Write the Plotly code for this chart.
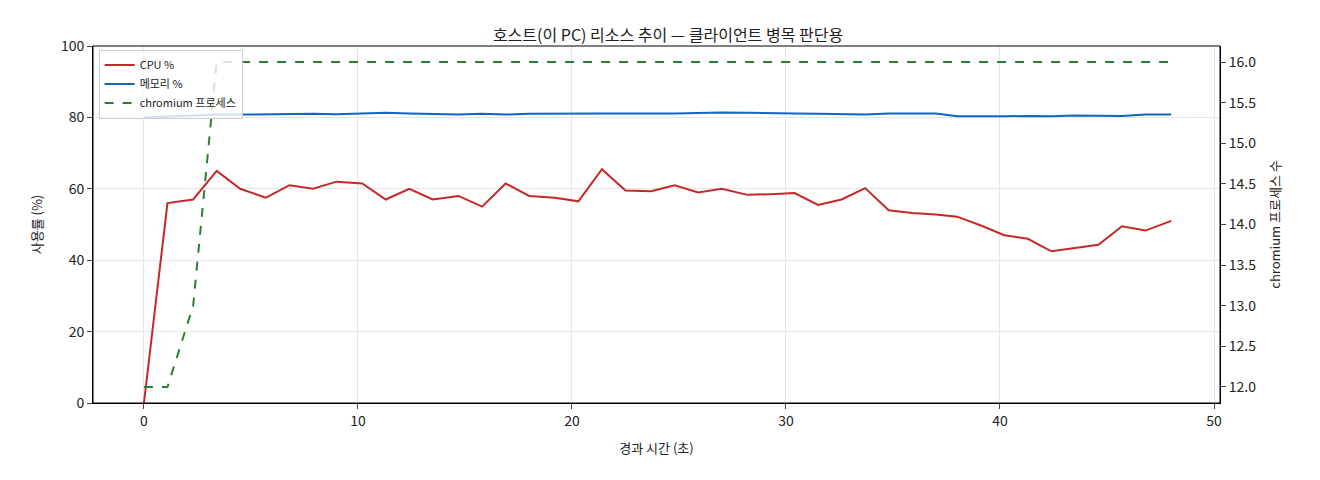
import plotly.graph_objects as go

t = [0, 1.1, 2.3, 3.4, 4.5, 5.7, 6.8, 7.9, 9.0, 10.2, 11.3, 12.4, 13.5, 14.7, 15.8, 16.9, 18.0, 19.2, 20.3, 21.4,
     22.5, 23.7, 24.8, 25.9, 27.0, 28.2, 29.3, 30.4, 31.5, 32.6, 33.7, 34.8, 35.9, 37.0, 38.0, 39.2, 40.2, 41.3,
     42.4, 43.5, 44.6, 45.7, 46.8, 48.0]
cpu = [0, 56, 57, 65, 60, 57.5, 61, 60, 62, 61.5, 57, 60, 57, 58, 55, 61.5, 58, 57.5, 56.5, 65.5,
       59.5, 59.3, 61, 59, 60, 58.3, 58.5, 58.8, 55.5, 57, 60.2, 54, 53.2, 52.8, 52.2, 49.5, 47, 46,
       42.5, 43.3, 44.3, 49.5, 48.3, 51]
mem = [80.0, 80.3, 80.5, 80.8, 80.8, 80.9, 81.0, 81.0, 80.9, 81.0, 81.3, 81.1, 81.0, 80.8, 81.0, 80.8, 81.0, 81.1,
       81.0, 81.1, 81.1, 81.0, 81.1, 81.2, 81.4, 81.3, 81.1, 81.1, 81.0, 80.9, 80.8, 81.1, 81.0, 81.1, 80.3, 80.2,
       80.3, 80.4, 80.3, 80.5, 80.4, 80.4, 80.8, 80.8]
procs = [12, 12, 13, 16] + [16] * 40

F = "Noto Sans CJK KR"
fig = go.Figure()
fig.add_trace(go.Scatter(x=t, y=cpu, name="CPU %", mode="lines", line=dict(color="#c62828", width=2)))
fig.add_trace(go.Scatter(x=t, y=mem, name="메모리 %", mode="lines", line=dict(color="#1565c0", width=2)))
fig.add_trace(go.Scatter(x=t, y=procs, name="chromium 프로세스", mode="lines", yaxis="y2",
                         line=dict(color="#2e7d32", width=2, dash="dash")))
ax = dict(showline=True, linecolor="black", ticks="outside", mirror=False, tickfont=dict(size=14, color="#222"),
          zeroline=False, automargin=False)
fig.update_layout(
    width=1320, height=480, plot_bgcolor="white", paper_bgcolor="white",
    font=dict(family=F, color="#222"),
    margin=dict(l=85, r=108, t=38, b=85),
    title=dict(text="호스트(이 PC) 리소스 추이 — 클라이언트 병목 판단용", x=0.5, xanchor="center", y=0.955,
               font=dict(size=16)),
    xaxis=dict(range=[-2.38, 50.28], dtick=10, showgrid=True, gridcolor="#e6e6e6",
               title=dict(text="경과 시간 (초)", font=dict(size=13)), **ax),
    yaxis=dict(range=[0, 100], dtick=20, showgrid=True, gridcolor="#e6e6e6",
               title=dict(text="사용률 (%)", font=dict(size=13)), **ax),
    yaxis2=dict(range=[11.803, 16.197], dtick=0.5, tickformat=".1f", overlaying="y", side="right",
                showgrid=False, title=dict(text="chromium 프로세스 수", font=dict(size=13)), **ax),
    legend=dict(x=0.005, y=0.99, xanchor="left", yanchor="top", bgcolor="rgba(255,255,255,0.8)",
                bordercolor="#ccc", borderwidth=1, font=dict(size=11)),
    shapes=[dict(type="rect", xref="paper", yref="paper", x0=0, y0=0, x1=1, y1=1,
                 line=dict(color="black", width=1))],
)
fig.write_html("out.html")
